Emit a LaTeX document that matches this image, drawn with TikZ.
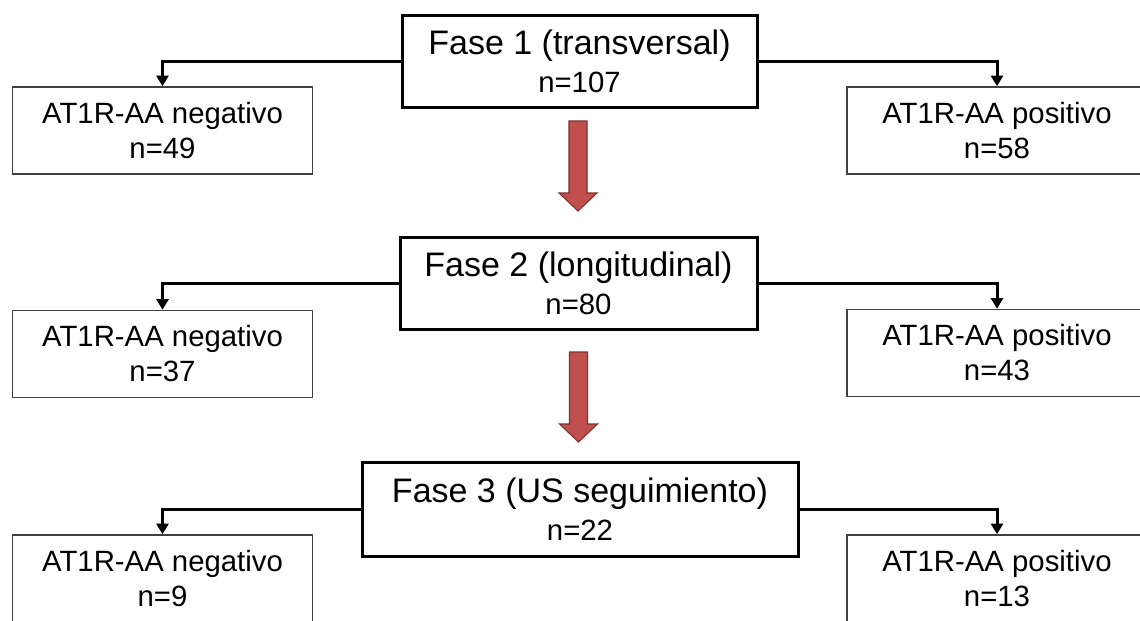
\documentclass[tikz,border=0pt]{standalone}
\usepackage{fontspec}
\setmainfont{Liberation Sans}
\usetikzlibrary{arrows.meta,calc,positioning}

\definecolor{arrowred}{HTML}{C0504D}
\definecolor{arrowedge}{HTML}{7F2F2D}
\definecolor{sideedge}{HTML}{404040}

% block arrow pointing down, #1 = top centre
\newcommand\phasestep[1]{%
  \filldraw[stepfill] ($(#1)+(-9,0)$) -- ($(#1)+(9,0)$) -- ($(#1)+(9,72)$)
    -- ($(#1)+(19,72)$) -- ($(#1)+(0,90)$) -- ($(#1)+(-19,72)$)
    -- ($(#1)+(-9,72)$) -- cycle;}
% smaller count line inside a phase box
\newcommand\phasecount[1]{{\fontsize{22}{27.75}\selectfont #1}}

\begin{document}
\begin{tikzpicture}[x=0.75pt,y=-0.75pt,
  phasebox/.style={draw=black,line width=2.25pt,fill=white,align=center,
    inner sep=0pt,font={\fontsize{25.5}{28.5}\selectfont}},
  sidebox/.style={draw=sideedge,line width=1.1pt,fill=white,align=center,
    inner sep=0pt,minimum width=300*0.75pt,minimum height=87*0.75pt,
    font={\fontsize{22}{26.25}\selectfont}},
  split/.style={draw=black,line width=2.25pt,
    -{Triangle[width=9pt,length=8pt]}},
  stepfill/.style={fill=arrowred,draw=arrowedge,line width=0.8pt}]

\useasboundingbox (0,0) rectangle (1140,621);
\clip (0,0) rectangle (1140,621);

% phase 1
\node[phasebox,minimum width=355*0.75pt,minimum height=92*0.75pt] (f1) at (579.5,61)
  {Fase 1 (transversal)\\\phasecount{n=107}};
\node[sidebox] (n1) at (162.5,130.5) {AT1R-AA negativo\\n=49};
\node[sidebox] (p1) at (997,130.5) {AT1R-AA positivo\\n=58};
\draw[split] (f1.west) -| (n1.north);
\draw[split] (f1.east) -| (p1.north);

% phase 2
\node[phasebox,minimum width=357*0.75pt,minimum height=92*0.75pt] (f2) at (578.5,283)
  {Fase 2 (longitudinal)\\\phasecount{n=80}};
\node[sidebox] (n2) at (162.5,354) {AT1R-AA negativo\\n=37};
\node[sidebox] (p2) at (997,353) {AT1R-AA positivo\\n=43};
\draw[split] (f2.west) -| (n2.north);
\draw[split] (f2.east) -| (p2.north);

% phase 3
\node[phasebox,minimum width=436*0.75pt,minimum height=94*0.75pt] (f3) at (580,509)
  {Fase 3 (US seguimiento)\\\phasecount{n=22}};
\node[sidebox] (n3) at (162.5,578.5) {AT1R-AA negativo\\n=9};
\node[sidebox] (p3) at (997,578.5) {AT1R-AA positivo\\n=13};
\draw[split] (f3.west) -| (n3.north);
\draw[split] (f3.east) -| (p3.north);

% progression between phases
\coordinate (s1) at (578,121);
\coordinate (s2) at (578.5,352);
\phasestep{s1}
\phasestep{s2}
\end{tikzpicture}
\end{document}
